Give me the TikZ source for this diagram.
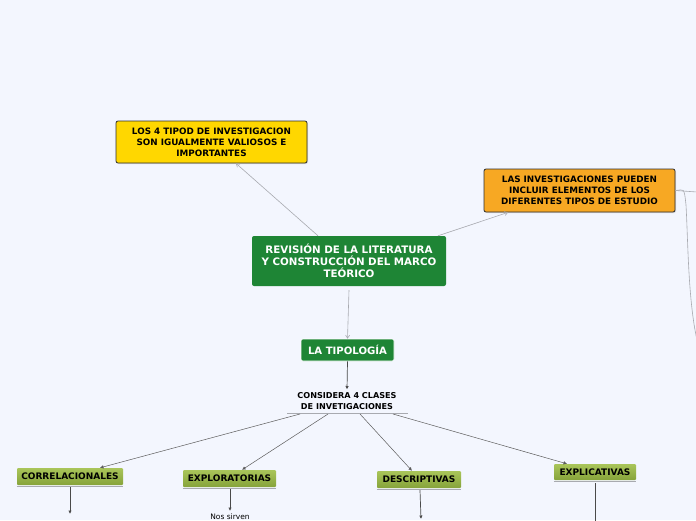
\documentclass[tikz,border=0pt]{standalone}
\usepackage{fontspec}
\setmainfont{DejaVu Sans}
\usetikzlibrary{arrows.meta,shadows}
\definecolor{bg}{HTML}{F3F6FE}
\definecolor{yel}{HTML}{FFD700}
\definecolor{org}{HTML}{F7A823}
\definecolor{grn}{HTML}{1E8535}
\definecolor{olvt}{HTML}{A9C55A}
\definecolor{olvb}{HTML}{86A33A}
\definecolor{edge}{HTML}{2E2E2E}
\definecolor{lgray}{HTML}{A8AAB0}
\definecolor{dgray}{HTML}{4A4A4A}
\tikzset{
  notebox/.style={draw=edge, line width=0.8pt, rounded corners=2pt, align=center,
    font=\fontsize{8.8}{11}\selectfont\bfseries, text=black, inner sep=0pt,
    drop shadow={shadow xshift=1pt, shadow yshift=-1pt, opacity=0.25}},
  greenbox/.style={fill=grn, rounded corners=2pt, align=center, text=white,
    font=\fontsize{10.3}{11.8}\selectfont\bfseries, inner sep=0pt},
  olivebox/.style={top color=olvt, bottom color=olvb, rounded corners=1pt,
    font=\fontsize{9}{10}\selectfont\bfseries, text=black, inner sep=0pt},
  thin/.style={draw=lgray, line width=0.6pt, -{Straight Barb[length=3pt,width=4pt]}},
  dark/.style={draw=dgray, line width=0.7pt, -{Latex[length=3.5pt,width=3.5pt]}},
}
\begin{document}
\begin{tikzpicture}[x=1pt,y=-1pt]
\fill[bg] (0,0) rectangle (696,520);
\useasboundingbox (0,0) rectangle (696,520);

\node[notebox, fill=yel, minimum width=191pt, minimum height=42pt] (yel) at (211.5,142)
  {LOS 4 TIPOD DE INVESTIGACION\\SON IGUALMENTE VALIOSOS E\\IMPORTANTES};
\node[notebox, fill=org, minimum width=191pt, minimum height=43pt] (org) at (579.5,190.5)
  {LAS INVESTIGACIONES PUEDEN\\INCLUIR ELEMENTOS DE LOS\\DIFERENTES TIPOS DE ESTUDIO};
\node[greenbox, minimum width=194pt, minimum height=50pt] (main) at (349,261)
  {REVISIÓN DE LA LITERATURA\\Y CONSTRUCCIÓN DEL MARCO\\TEÓRICO};
\node[greenbox, draw=white, line width=0.6pt, font=\fontsize{10.1}{11}\selectfont\bfseries,
  minimum width=93pt, minimum height=22pt] (tip) at (347.5,350) {LA TIPOLOGÍA};
\node[align=center, font=\fontsize{8.1}{10.5}\selectfont\bfseries, inner sep=0pt] (cons) at (347,401)
  {CONSIDERA 4 CLASES\\DE INVETIGACIONES};
\coordinate (ul1) at (287,413.5);
\coordinate (ul2) at (408,413.5);
\draw[lgray, line width=0.6pt] (ul1) -- (ul2);

\node[olivebox, minimum width=106pt, minimum height=17pt] (cor) at (70,476.5) {CORRELACIONALES};
\node[olivebox, minimum width=93pt, minimum height=17pt] (exp) at (229.5,478.5) {EXPLORATORIAS};
\node[olivebox, minimum width=84pt, minimum height=17pt] (des) at (419,479.5) {DESCRIPTIVAS};
\node[olivebox, minimum width=82pt, minimum height=16pt] (ex2) at (595,472) {EXPLICATIVAS};
\foreach \n in {cor,exp,des,ex2}{
  \draw[lgray, line width=0.8pt] ([yshift=-1pt]\n.south west) -- ([yshift=-1pt]\n.south east);
}

% connectors
\draw[thin] ([xshift=-31pt]main.north) -- ([xshift=24.5pt]yel.south);
\draw[thin] ([xshift=89pt]main.north) -- ([xshift=-71.5pt]org.south);
\draw[thin] ([yshift=-4pt]main.south) -- (tip.north);
\draw[dark] (tip.south) -- ([yshift=3pt]cons.north);
\coordinate (s1) at (300,414);
\coordinate (s2) at (328,414);
\coordinate (s3) at (360,414);
\coordinate (s4) at (393,414);
\draw[dark, draw=dgray!90, line width=0.5pt] (s1) -- ([xshift=30pt]cor.north);
\draw[dark, draw=dgray!90, line width=0.5pt] (s2) -- ([xshift=12.5pt]exp.north);
\draw[dark, draw=dgray!90, line width=0.5pt] (s3) -- ([xshift=-7pt]des.north);
\draw[dark, draw=dgray!90, line width=0.5pt] (s4) -- ([xshift=-28pt]ex2.north);

\coordinate (c1) at (70,514);
\coordinate (c2) at (230,511);
\coordinate (c3) at (421,519);
\coordinate (c4) at (595,522);
\draw[dark] ([yshift=-2pt]cor.south) -- (c1);
\draw[dark] ([xshift=0.5pt,yshift=-2pt]exp.south) -- (c2);
\draw[dark] ([xshift=1pt,yshift=-2pt]des.south) -- (c3);
\draw[dgray, line width=0.7pt] ([yshift=-3pt]ex2.south) -- (c4);

\node[font=\fontsize{7.5}{9}\selectfont, anchor=south, inner sep=0pt] (nos) at (230,519.5) {Nos sirven};

% curve to the right
\coordinate (r1) at (697,340);
\draw[lgray, line width=0.6pt] (org.east) .. controls (684,190) and (684,186) .. (686,205)
  .. controls (688,240) and (688,300) .. (r1);
\draw[lgray, line width=0.6pt] (org.east) -- (697,192);
\end{tikzpicture}
\end{document}
